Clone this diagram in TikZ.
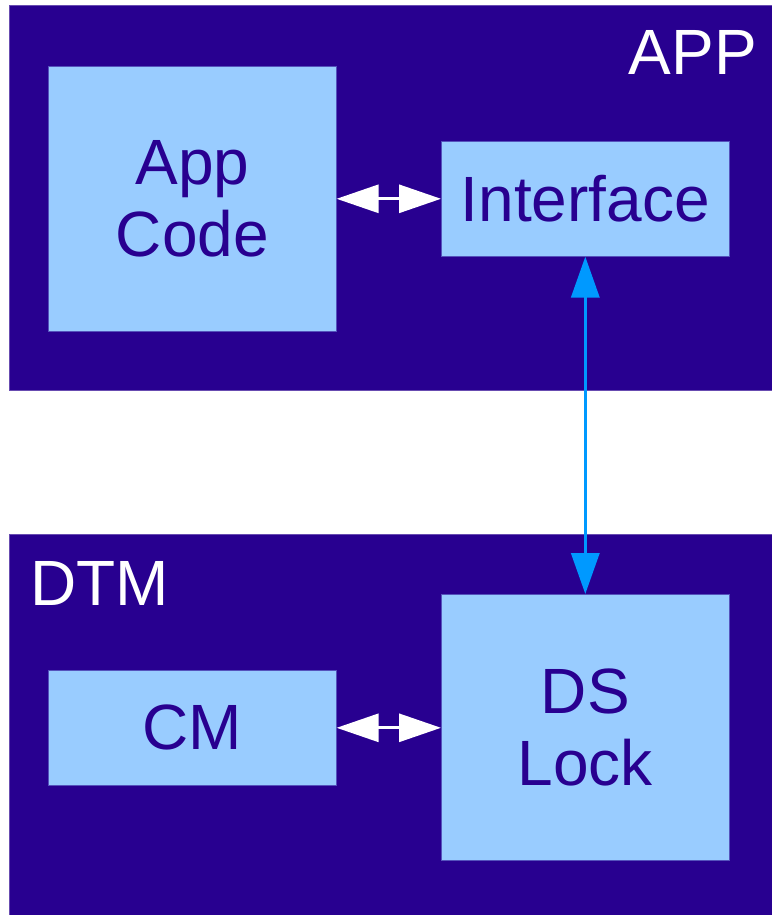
\documentclass[tikz,border=0pt]{standalone}
\usepackage{fontspec}
\setmainfont{Liberation Sans}
\usetikzlibrary{arrows.meta}
\definecolor{deep}{HTML}{280090}
\definecolor{pale}{HTML}{99CCFF}
\definecolor{link}{HTML}{0099FF}
\tikzset{
  frame/.style={draw=deep!70!white, line width=0.8pt, fill=deep, inner sep=0pt, anchor=north west},
  comp/.style={draw=deep!60!pale, line width=0.6pt, fill=pale, text=deep, inner sep=0pt, anchor=north west,
    align=center, font=\fontsize{64}{72}\selectfont},
  title/.style={text=white, font=\fontsize{64}{72}\selectfont, inner sep=0pt},
  whitelink/.style={draw=white, line width=3pt, {Triangle[length=42pt,width=28pt]}-{Triangle[length=42pt,width=28pt]}},
  bluelink/.style={draw=link, line width=3.5pt, {Triangle[length=41pt,width=28pt]}-{Triangle[length=41pt,width=28pt]}}
}
\begin{document}
\begin{tikzpicture}[x=1pt,y=-1pt]
\useasboundingbox (0,0) rectangle (771,915);
% containers
\node[frame, minimum width=775pt, minimum height=385pt] (appframe) at (9,5) {};
\node[frame, minimum width=775pt, minimum height=390pt] (dtmframe) at (9,534) {};
\node[title, anchor=base east] (apptitle) at (757,75) {APP};
\node[title, anchor=base west] (dtmtitle) at (30,605) {DTM};
% components
\node[comp, minimum width=288pt, minimum height=265pt] (appcode) at (48,66) {App\\Code};
\node[comp, minimum width=288pt, minimum height=115pt] (iface) at (441,141) {Interface};
\node[comp, minimum width=288pt, minimum height=115pt] (cm) at (48,670) {CM};
\node[comp, minimum width=288pt, minimum height=266pt] (dslock) at (441,594) {DS\\Lock};
% connectors
\draw[whitelink] (appcode.east) -- (iface.west);
\draw[whitelink] (cm.east) -- (cm.east -| dslock.west);
\draw[bluelink] (iface.south) -- (dslock.north);
\end{tikzpicture}
\end{document}
